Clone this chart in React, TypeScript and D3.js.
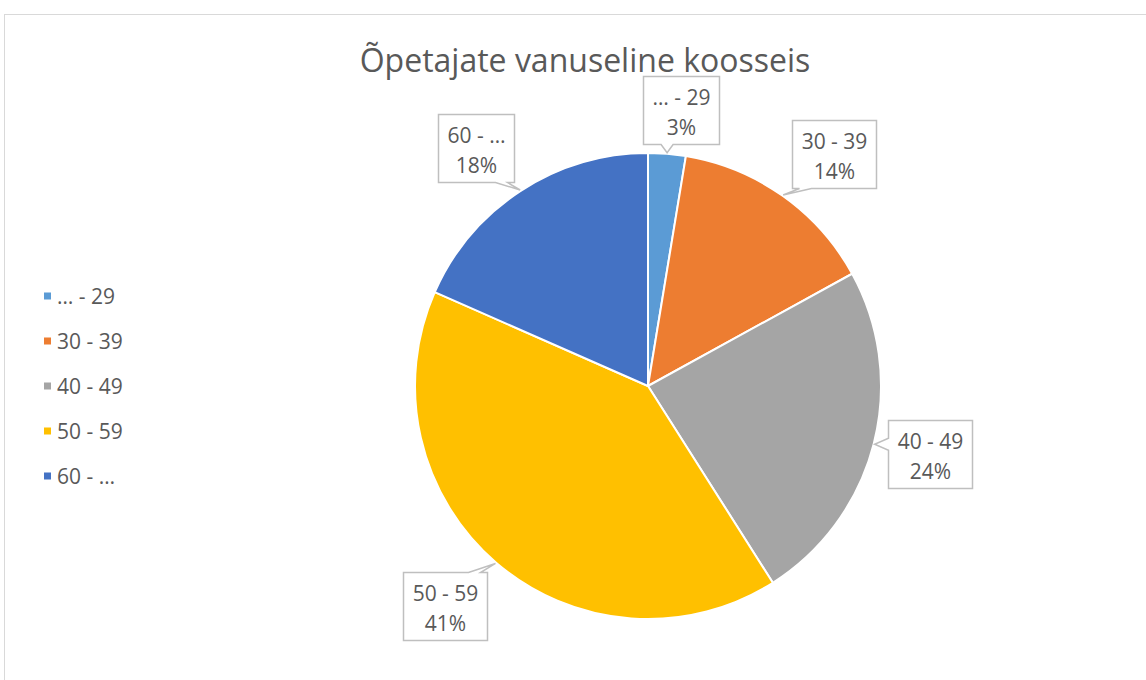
import React from "react";
import * as d3 from "d3";

const title = "Õpetajate vanuseline koosseis";
const categories = ["… - 29", "30 - 39", "40 - 49", "50 - 59", "60 - …"];
const values = [2.6, 14.4, 24.0, 40.6, 18.4];
const colors = ["#5B9BD5", "#ED7D31", "#A5A5A5", "#FFC000", "#4472C4"];

// layout constants
const W = 1146;
const H = 680;
const CX = 648;
const CY = 386;
const R = 233;
const LABEL_R = 293;
const labelNudge: [number, number][] = [
  [9, 16],
  [17, 7],
  [-2, -5],
  [-12, -2],
  [-12, 7],
];
const FONT = "'Open Sans', 'Noto Sans', sans-serif";
const TEXT = "#595959";

let ctx: CanvasRenderingContext2D | null = null;
function measure(text: string, size: number) {
  if (!ctx) ctx = document.createElement("canvas").getContext("2d");
  if (!ctx) return text.length * size * 0.55;
  ctx.font = `${size}px 'Open Sans'`;
  return ctx.measureText(text).width;
}

function calloutPath(x0: number, y0: number, x1: number, y1: number, tx: number, ty: number) {
  const inset = 13;
  const hw = 6;
  const clamp = (v: number, a: number, b: number) => Math.max(a, Math.min(b, v));
  if (ty > y1) {
    const bx = clamp(tx, x0 + inset, x1 - inset);
    return `M${x0},${y0}H${x1}V${y1}H${bx + hw}L${tx},${ty}L${bx - hw},${y1}H${x0}Z`;
  }
  if (ty < y0) {
    const bx = clamp(tx, x0 + inset, x1 - inset);
    return `M${x0},${y0}H${bx - hw}L${tx},${ty}L${bx + hw},${y0}H${x1}V${y1}H${x0}Z`;
  }
  if (tx < x0) {
    const by = clamp(ty, y0 + inset, y1 - inset);
    return `M${x0},${y0}H${x1}V${y1}H${x0}V${by + hw}L${tx},${ty}L${x0},${by - hw}Z`;
  }
  const by = clamp(ty, y0 + inset, y1 - inset);
  return `M${x0},${y0}H${x1}V${by - hw}L${tx},${ty}L${x1},${by + hw}V${y1}H${x0}Z`;
}

export default function App() {
  const total = d3.sum(values);
  const pie = d3
    .pie<number>()
    .sort(null)
    .value((d) => d);
  const arcs = pie(values);
  const arc = d3.arc<d3.PieArcDatum<number>>().innerRadius(0).outerRadius(R);
  const legendY = d3
    .scalePoint<string>()
    .domain(categories)
    .range([296, 476]);

  const labelSize = 21;

  return (
    <svg
      width={W}
      height={H}
      style={{ position: "absolute", left: 0, top: 0, background: "#fff" }}
    >
      <rect x={0} y={0} width={W} height={H} fill="#fff" />
      <rect x={4.5} y={14.5} width={1300} height={800} fill="#fff" stroke="#D9D9D9" strokeWidth={1} />
      <text
        x={585}
        y={72}
        textAnchor="middle"
        fontFamily={FONT}
        fontSize={32}
        fill={TEXT}
      >
        {title}
      </text>

      <g transform={`translate(${CX},${CY})`}>
        {arcs.map((a, i) => (
          <path key={i} d={arc(a) || ""} fill={colors[i]} stroke="#fff" strokeWidth={2} strokeLinejoin="round" />
        ))}
      </g>

      {arcs.map((a, i) => {
        const mid = (a.startAngle + a.endAngle) / 2;
        const tipR = R + 1;
        const tx = CX + tipR * Math.sin(mid);
        const ty = CY - tipR * Math.cos(mid);
        const lx = CX + LABEL_R * Math.sin(mid) + labelNudge[i][0];
        const ly = CY - LABEL_R * Math.cos(mid) + labelNudge[i][1];
        const pct = `${Math.round((values[i] / total) * 100)}%`;
        const tw = Math.max(measure(categories[i], labelSize), measure(pct, labelSize));
        const bw = Math.round(tw + 18);
        const bh = 68;
        const x0 = Math.round(lx - bw / 2) + 0.5;
        const y0 = Math.round(ly - bh / 2) + 0.5;
        const x1 = x0 + bw;
        const y1 = y0 + bh;
        return (
          <g key={i}>
            <path
              d={calloutPath(x0, y0, x1, y1, tx, ty)}
              fill="#fff"
              stroke="#BFBFBF"
              strokeWidth={1.5}
              strokeLinejoin="miter"
            />
            <text
              x={(x0 + x1) / 2}
              y={y0 + 28}
              textAnchor="middle"
              fontFamily={FONT}
              fontSize={labelSize}
              fill={TEXT}
            >
              {categories[i]}
            </text>
            <text
              x={(x0 + x1) / 2}
              y={y0 + 58}
              textAnchor="middle"
              fontFamily={FONT}
              fontSize={labelSize}
              fill={TEXT}
            >
              {pct}
            </text>
          </g>
        );
      })}

      {categories.map((c, i) => {
        const y = legendY(c) as number;
        return (
          <g key={c}>
            <rect x={44} y={y - 3.5} width={7} height={7} fill={colors[i]} />
            <text x={57} y={y + 7.5} fontFamily={FONT} fontSize={labelSize} fill={TEXT}>
              {c}
            </text>
          </g>
        );
      })}
    </svg>
  );
}
